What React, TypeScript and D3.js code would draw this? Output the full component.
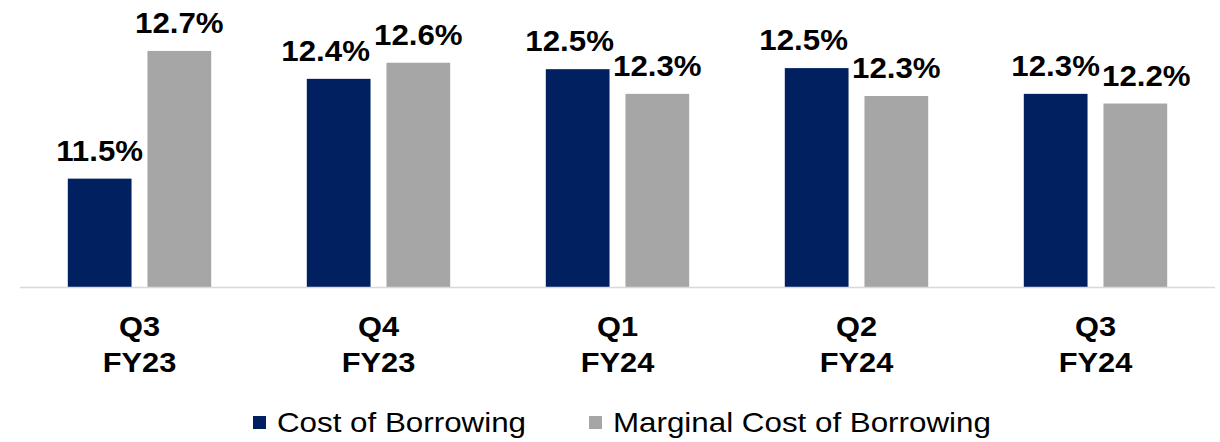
import React from 'react';
import * as d3 from 'd3';

const categories = [
  ['Q3', 'FY23'],
  ['Q4', 'FY23'],
  ['Q1', 'FY24'],
  ['Q2', 'FY24'],
  ['Q3', 'FY24'],
];
const seriesNames = ['Cost of Borrowing', 'Marginal Cost of Borrowing'];
const costOfBorrowing = [11.51, 12.44, 12.53, 12.54, 12.3];
const marginalCost = [12.7, 12.59, 12.3, 12.28, 12.21];
const colors = ['#002060', '#a6a6a6'];
// horizontal nudges of the value labels, as in the original slide (to keep them from colliding)
const labelNudge = [
  [0, 0],
  [-13, 0],
  [-8, 0],
  [-13, 0],
  [0, 11],
];

const width = 1220;
const height = 442;
const baseline = 287;
const font = '"Liberation Sans", Arial, Helvetica, sans-serif';

const App = () => {
  const keys = categories.map((c) => c.join(' '));
  const x = d3.scaleBand().domain(keys).range([20, 1215]).padding(0);
  const inner = d3
    .scaleBand()
    .domain(seriesNames)
    .range([0, x.bandwidth()])
    .paddingInner(0.2)
    .paddingOuter(0.6);
  const y = d3.scaleLinear().domain([10.5, 13]).range([baseline, baseline - 2.5 * 107.3]);

  const rows = keys.map((k, i) => ({
    key: k,
    values: [costOfBorrowing[i], marginalCost[i]],
  }));

  return (
    <svg
      width={width}
      height={height}
      viewBox={`0 0 ${width} ${height}`}
      style={{ position: 'absolute', left: 0, top: 0, background: '#fff' }}
    >
      <g id="bars">
        {rows.map((row, i) =>
          row.values.map((v, j) => {
            const bx = (x(row.key) ?? 0) + (inner(seriesNames[j]) ?? 0);
            const bw = inner.bandwidth();
            return (
              <g key={row.key + j}>
                <rect x={bx} y={y(v)} width={bw} height={baseline - y(v)} fill={colors[j]} />
                <text
                  transform={`translate(${bx + bw / 2 + labelNudge[i][j]},${y(v) - 18}) scale(1.06,1)`}
                  textAnchor="middle"
                  fontFamily={font}
                  fontWeight="bold"
                  fontSize={29.5}
                  fill="#000"
                >
                  {v.toFixed(1)}%
                </text>
              </g>
            );
          })
        )}
      </g>
      <line x1={20} x2={1215} y1={baseline + 0.5} y2={baseline + 0.5} stroke="#d9d9d9" strokeWidth={1.5} />
      <g id="xAxis">
        {categories.map((c, i) => {
          const cx = (x(keys[i]) ?? 0) + x.bandwidth() / 2;
          return c.map((line, li) => (
            <text
              key={keys[i] + li}
              transform={`translate(${cx},${336 + li * 35.7}) scale(1.1,1)`}
              textAnchor="middle"
              fontFamily={font}
              fontWeight="bold"
              fontSize={28}
              fill="#000"
            >
              {line}
            </text>
          ));
        })}
      </g>
      <g id="legend">
        {seriesNames.map((name, i) => {
          const lx = [253, 589][i];
          return (
            <g key={name}>
              <rect x={lx} y={416} width={13} height={13} fill={colors[i]} />
              <text
                transform={`translate(${lx + 24},431.5) scale(1.1,1)`}
                fontFamily={font}
                fontSize={28.5}
                fill="#000"
              >
                {name}
              </text>
            </g>
          );
        })}
      </g>
    </svg>
  );
};

export default App;
